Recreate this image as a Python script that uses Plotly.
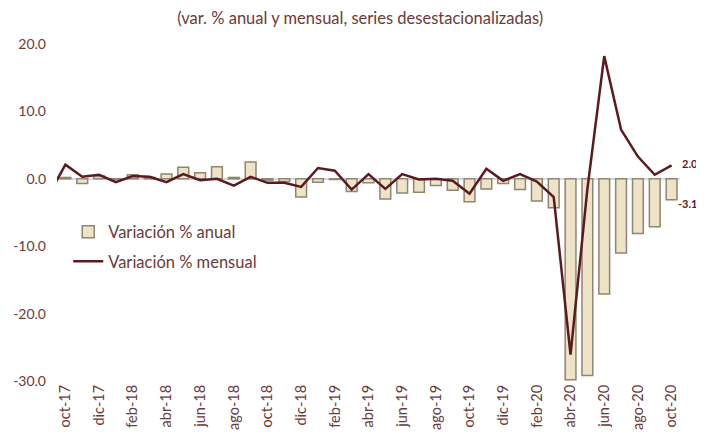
import plotly.graph_objects as go

months = ["sep-17",
          "oct-17", "nov-17", "dic-17", "ene-18", "feb-18", "mar-18", "abr-18", "may-18", "jun-18",
          "jul-18", "ago-18", "sep-18", "oct-18", "nov-18", "dic-18", "ene-19", "feb-19", "mar-19",
          "abr-19", "may-19", "jun-19", "jul-19", "ago-19", "sep-19", "oct-19", "nov-19", "dic-19",
          "ene-20", "feb-20", "mar-20", "abr-20", "may-20", "jun-20", "jul-20", "ago-20", "sep-20",
          "oct-20"]

anual = [None,
         0.2, -0.7, 0.4, -0.1, 0.6, 0.2, 0.7, 1.7, 0.9,
         1.8, 0.2, 2.5, -0.2, -0.4, -2.7, -0.5, -0.1, -1.9,
         -0.6, -3.0, -2.1, -2.0, -1.0, -1.7, -3.4, -1.5, -0.7,
         -1.6, -3.3, -4.3, -29.8, -29.2, -17.1, -11.0, -8.1, -7.1,
         -3.1]

mensual = [-2.4,
           2.1, 0.3, 0.6, -0.5, 0.4, 0.3, -0.5, 0.7, -0.2,
           0.0, -1.0, 0.3, -0.6, -0.6, -1.2, 1.6, 1.2, -1.6,
           0.7, -1.5, 0.7, -0.1, 0.0, -0.3, -2.2, 1.5, -0.3,
           0.7, -0.4, -2.7, -26.1, -1.5, 18.2, 7.3, 3.3, 0.6,
           2.0]

tick_labels = months[1::2]
y_ticks = [20, 10, 0, -10, -20, -30]
y_tick_text = ["20.0", "10.0", "0.0", "-10.0", "-20.0", "-30.0"]

txt = "#6b3a3a"
font_family = "Lato, 'Open Sans', sans-serif"

fig = go.Figure()
fig.add_trace(go.Bar(
    x=months, y=anual, name="Variación % anual",
    marker=dict(color="#eee2c7", line=dict(color="#8f8573", width=1.5)),
    width=0.64, legendgroup="a",
))
fig.add_trace(go.Scatter(
    x=months, y=mensual, name="Variación % mensual", mode="lines",
    line=dict(color="#5a1a1f", width=2.5), legendgroup="b",
))

fig.add_annotation(x=months[-1], y=mensual[-1], text="<b>2.0</b>", showarrow=False,
                   xanchor="left", xshift=8, yshift=2, font=dict(size=11, color="#5a1a1f", family=font_family))
fig.add_annotation(x=months[-1], y=anual[-1], text="<b>-3.1</b>", showarrow=False,
                   xanchor="left", xshift=4, yshift=-4, font=dict(size=11, color="#5a1a1f", family=font_family))

# page body has an 8px default margin, so the figure is sized/offset to fit the 704x442 window
fig.update_layout(
    width=696, height=426,
    margin=dict(l=49, r=24, t=36, b=53),
    paper_bgcolor="white", plot_bgcolor="white",
    font=dict(family=font_family, color=txt, size=14),
    title=dict(text="(var. % anual y mensual, series desestacionalizadas)",
               x=0.506, xanchor="center", y=0.977, yanchor="middle",
               font=dict(size=16.5, color=txt, family=font_family)),
    showlegend=True,
    legend=dict(x=0.018, y=0.494, xanchor="left", yanchor="top",
                bgcolor="rgba(0,0,0,0)", font=dict(size=16.5, color=txt),
                traceorder="grouped", tracegroupgap=5, itemwidth=30),
    bargap=0.35,
)
fig.update_xaxes(
    type="category", range=[0.5, 37.5], automargin=False,
    tickmode="array", tickvals=tick_labels, ticktext=tick_labels,
    tickangle=-90, showgrid=False, showline=False, ticks="",
    tickfont=dict(size=14.5, color=txt), zeroline=False,
)
fig.update_yaxes(
    range=[-30, 20], tickmode="array", tickvals=y_ticks, ticktext=y_tick_text, automargin=False,
    showgrid=False, zeroline=True, zerolinecolor="#d9d9d9", zerolinewidth=1.5,
    showline=False, ticks="", tickfont=dict(size=14, color=txt), ticklabelstandoff=10,
)

fig.write_html("out.html")
